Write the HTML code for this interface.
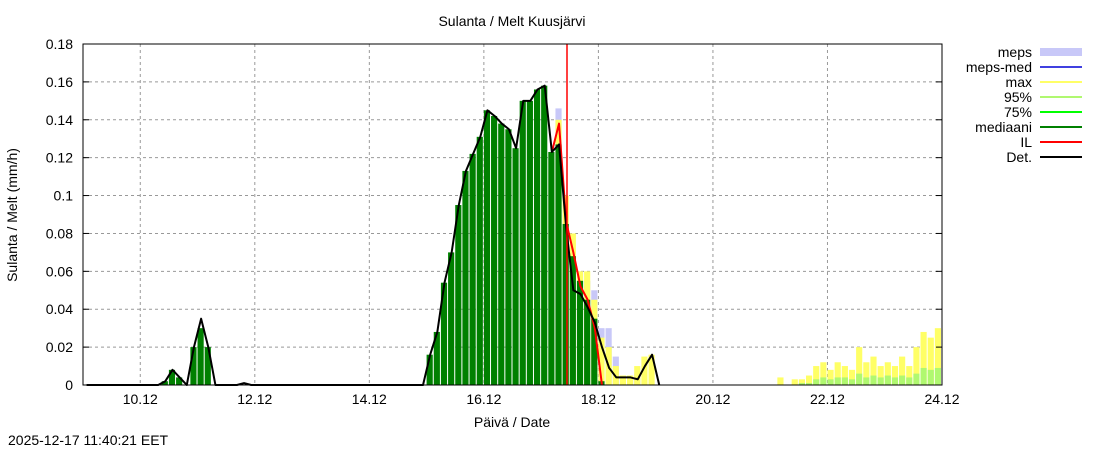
<!DOCTYPE html>
<html><head><meta charset="utf-8"><style>
body{margin:0;background:#fff;font-family:"Liberation Sans",sans-serif}
svg{display:block}
text{font-family:"Liberation Sans",sans-serif;fill:#000}
</style></head><body>
<svg id="c" width="1100" height="450">
<text x="512" y="26" font-size="14" text-anchor="middle">Sulanta / Melt  Kuusjärvi</text>
<text x="512" y="427" font-size="14" text-anchor="middle">Päivä / Date</text>
<text transform="translate(17,215) rotate(-90)" font-size="14" text-anchor="middle">Sulanta / Melt (mm/h)</text>
<text x="8" y="445" font-size="14">2025-12-17 11:40:21 EET</text>
<g id="grid"></g><g id="marks"></g><g id="axes"></g><g id="legend"></g>
</svg>
<script>
const xTickLabels=["10.12","12.12","14.12","16.12","18.12","20.12","22.12","24.12"];
const xTickSteps=[8,24,40,56,72,88,104,120];
const yTicks=[0,0.02,0.04,0.06,0.08,0.1,0.12,0.14,0.16,0.18];
const yTickLabels=["0","0.02","0.04","0.06","0.08","0.1","0.12","0.14","0.16","0.18"];
// 3-hour steps from 9.12 00:00
const detStart=0;
const detValues=[0,0,0,0,0,0,0,0,0,0,0,0.002,0.008,0.004,0,0.02,0.035,0.02,0,0,0,0,0.001,0,0,0,0,0,0,0,0,0,0,0,0,0,0,0,0,0,0,0,0,0,0,0,0,0,0.016,0.028,0.054,0.07,0.095,0.113,0.122,0.131,0.145,0.142,0.138,0.135,0.125,0.15,0.15,0.156,0.158,0.123,0.127,0.083,0.05,0.048,0.041,0.033,0.02,0.009,0.004,0.004,0.004,0.003,0.01,0.016,0];
const medianValues=[0,0,0,0,0,0,0,0,0,0,0,0.002,0.008,0.004,0,0.02,0.03,0.02,0,0,0,0,0,0,0,0,0,0,0,0,0,0,0,0,0,0,0,0,0,0,0,0,0,0,0,0,0,0,0.016,0.028,0.054,0.07,0.095,0.113,0.122,0.131,0.145,0.142,0.138,0.135,0.125,0.15,0.15,0.156,0.158,0.123,0.127,0.085,0.068,0.055,0.045,0.035,0.002,0];
const ilStart=65;
const ilValues=[0.123,0.138,0.086,0.07,0.052,0.045,0.03,0];
const mepsStart=66;
const mepsValues=[0.146,0.09,0.07,0.06,0.055,0.05,0.03,0.03,0.015,0.005,0.004,0.006];
const maxStart=66;
const maxValues=[0.14,0.1,0.08,0.06,0.06,0.045,0.025,0.02,0.01,0.005,0.005,0.01,0.015,0.016];
const tailStart=97;
const tailMax=[0.004,0,0.003,0.003,0.005,0.01,0.012,0.008,0.012,0.01,0.008,0.02,0.012,0.015,0.01,0.012,0.01,0.015,0.01,0.02,0.028,0.025,0.03];
const tail95=[0,0,0,0.001,0.001,0.003,0.004,0.003,0.004,0.004,0.003,0.006,0.004,0.005,0.004,0.005,0.004,0.005,0.004,0.006,0.009,0.008,0.009];
const L=83,R=942,T=44,B=385,NS=120;
const X=t=>L+(R-L)*t/NS, Y=v=>B-(B-T)*v/0.18;
const ns="http://www.w3.org/2000/svg";
function mk(p,tag,a){const e=document.createElementNS(ns,tag);for(const k in a)e.setAttribute(k,a[k]);p.appendChild(e);return e;}
const G=document.getElementById('grid'),M=document.getElementById('marks'),A=document.getElementById('axes'),LG=document.getElementById('legend');
yTicks.forEach((v,i)=>{
 if(i>0&&i<yTicks.length-1){const g=mk(G,'line',{x1:L,x2:R,y1:Y(v),y2:Y(v),stroke:'#999','stroke-dasharray':'3,3'});
 
 }
 const t=mk(A,'text',{x:73,y:Y(v)+5,'font-size':14,'text-anchor':'end'});t.textContent=yTickLabels[i];
 
 
 mk(A,'line',{x1:L,x2:L+6,y1:Y(v),y2:Y(v),stroke:'#000'});mk(A,'line',{x1:R,x2:R-6,y1:Y(v),y2:Y(v),stroke:'#000'});
});
xTickSteps.forEach((s,i)=>{
 if(s<NS){const g=mk(G,'line',{x1:X(s),x2:X(s),y1:T,y2:B,stroke:'#999','stroke-dasharray':'3,3'});
 
 }
 const t=mk(A,'text',{x:X(s),y:404,'font-size':14,'text-anchor':'middle'});t.textContent=xTickLabels[i];
 
 
});
function bars(start,vals,color,name){vals.forEach((v,i)=>{if(v<=0)return;const t=start+i;
 const r=mk(M,'rect',{x:X(t),y:Y(v),width:(R-L)/NS-1,height:B-Y(v),fill:color});
 
 });}
bars(mepsStart,mepsValues,'#c8c8f8','meps-bar');
bars(maxStart,maxValues,'#ffff66','max-bar');
bars(tailStart,tailMax,'#ffff66','max-bar');
bars(tailStart,tail95,'#b0f870','p95-bar');
bars(0,medianValues,'#008000','median-bar');
function line(start,vals,color,w,name){const pts=vals.map((v,i)=>X(start+i+0.5)+','+Y(v)).join(' ');
 const p=mk(M,'polyline',{points:pts,fill:'none',stroke:color,'stroke-width':w,'stroke-linejoin':'round'});
 
 }
line(ilStart,ilValues,'#ff0000',2,'il-line');
line(detStart,detValues,'#000',2,'det-line');
const nl=mk(M,'line',{x1:567,x2:567,y1:T,y2:B,stroke:'#ff0000','stroke-width':1.5});


const fr=mk(A,'rect',{x:L,y:T,width:R-L,height:B-T,fill:'none',stroke:'#000'});


const legNames=["meps","meps-med","max","95%","75%","mediaani","IL","Det."];
const legColors=["#c8c8f8","#4040e0","#ffff66","#b0f870","#00ff00","#008000","#ff0000","#000000"];
legNames.forEach((n,i)=>{const y=52+i*15;
 const g=mk(LG,'g',{});
 
 
 const t=mk(g,'text',{x:1032,y:y+5,'font-size':14,'text-anchor':'end'});t.textContent=n;
 mk(g,'line',{x1:1040,x2:1082,y1:y,y2:y,stroke:legColors[i],'stroke-width':i==0?8:2});
});
</script>
</body></html>
